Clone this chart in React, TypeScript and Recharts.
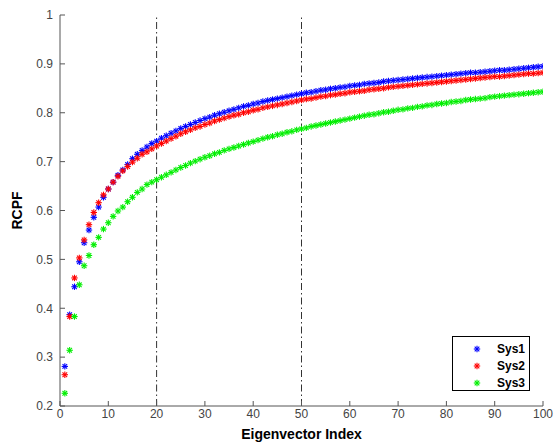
import { ScatterChart, Scatter, XAxis, YAxis, ReferenceLine, Legend, Label } from "recharts"

const sys1 = [
    0.281, 0.387, 0.444, 0.495, 0.534, 0.560, 0.586, 0.607, 0.627, 0.644,
    0.658, 0.672, 0.683, 0.694, 0.706, 0.715, 0.723, 0.730, 0.737, 0.742,
    0.748, 0.753, 0.758, 0.763, 0.768, 0.772, 0.776, 0.780, 0.784, 0.788,
    0.791, 0.795, 0.798, 0.801, 0.804, 0.807, 0.810, 0.813, 0.815, 0.818,
    0.820, 0.823, 0.825, 0.827, 0.829, 0.831, 0.833, 0.835, 0.837, 0.839,
    0.841, 0.842, 0.844, 0.846, 0.847, 0.849, 0.850, 0.852, 0.853, 0.855,
    0.856, 0.857, 0.859, 0.860, 0.861, 0.862, 0.864, 0.865, 0.866, 0.867,
    0.868, 0.869, 0.870, 0.871, 0.872, 0.873, 0.874, 0.875, 0.876, 0.877,
    0.878, 0.879, 0.880, 0.881, 0.882, 0.882, 0.883, 0.884, 0.885, 0.886,
    0.887, 0.887, 0.888, 0.889, 0.890, 0.891, 0.892, 0.893, 0.894, 0.895,
]

const sys2 = [
    0.264, 0.383, 0.462, 0.503, 0.540, 0.571, 0.596, 0.616, 0.632, 0.644,
    0.658, 0.670, 0.681, 0.690, 0.699, 0.707, 0.715, 0.720, 0.726, 0.732,
    0.737, 0.742, 0.747, 0.752, 0.757, 0.761, 0.765, 0.769, 0.772, 0.776,
    0.779, 0.783, 0.786, 0.789, 0.792, 0.795, 0.797, 0.800, 0.802, 0.805,
    0.807, 0.810, 0.812, 0.814, 0.816, 0.818, 0.820, 0.822, 0.824, 0.826,
    0.828, 0.829, 0.831, 0.833, 0.834, 0.836, 0.837, 0.839, 0.840, 0.842,
    0.843, 0.844, 0.845, 0.847, 0.848, 0.849, 0.850, 0.852, 0.853, 0.854,
    0.855, 0.856, 0.857, 0.858, 0.859, 0.860, 0.861, 0.862, 0.863, 0.864,
    0.865, 0.866, 0.867, 0.868, 0.869, 0.870, 0.871, 0.872, 0.873, 0.874,
    0.874, 0.875, 0.876, 0.877, 0.878, 0.879, 0.880, 0.880, 0.881, 0.882,
]

const sys3 = [
    0.226, 0.314, 0.383, 0.448, 0.487, 0.508, 0.530, 0.545, 0.562, 0.575,
    0.588, 0.599, 0.607, 0.618, 0.627, 0.637, 0.644, 0.653, 0.658, 0.663,
    0.668, 0.673, 0.678, 0.683, 0.688, 0.692, 0.697, 0.701, 0.705, 0.709,
    0.712, 0.716, 0.719, 0.723, 0.726, 0.729, 0.732, 0.735, 0.738, 0.741,
    0.744, 0.747, 0.750, 0.752, 0.755, 0.757, 0.760, 0.762, 0.765, 0.767,
    0.769, 0.772, 0.774, 0.776, 0.778, 0.780, 0.782, 0.784, 0.786, 0.788,
    0.790, 0.792, 0.794, 0.796, 0.797, 0.799, 0.801, 0.802, 0.804, 0.806,
    0.807, 0.809, 0.810, 0.812, 0.813, 0.815, 0.816, 0.818, 0.819, 0.820,
    0.822, 0.823, 0.824, 0.826, 0.827, 0.828, 0.829, 0.830, 0.832, 0.833,
    0.834, 0.835, 0.836, 0.837, 0.838, 0.839, 0.840, 0.841, 0.842, 0.843,
]

const xTicks = [0, 10, 20, 30, 40, 50, 60, 70, 80, 90, 100]
const yTicks = [0.2, 0.3, 0.4, 0.5, 0.6, 0.7, 0.8, 0.9, 1]
const markers = [20, 50]

const series = [
    { name: "Sys1", values: sys1, color: "#0000ff" },
    { name: "Sys2", values: sys2, color: "#ff0000" },
    { name: "Sys3", values: sys3, color: "#00ee00" },
]

const font = "'Liberation Sans', Arial, sans-serif"
const axisColor = "#555"

function Asterisk(props: any) {
    const { cx, cy, fill } = props
    if (cx == null || cy == null) return null
    const r = 3.2
    const d = 2.3
    return (
        <g stroke={fill} strokeWidth={1.1}>
            <line x1={cx - r} y1={cy} x2={cx + r} y2={cy} />
            <line x1={cx} y1={cy - r} x2={cx} y2={cy + r} />
            <line x1={cx - d} y1={cy - d} x2={cx + d} y2={cy + d} />
            <line x1={cx - d} y1={cy + d} x2={cx + d} y2={cy - d} />
        </g>
    )
}

function LegendBox() {
    return (
        <div style={{ width: 78, height: 55, border: "1px solid #000", background: "#fff", fontFamily: font, fontWeight: "bold", fontSize: 12, boxSizing: "border-box", paddingTop: 3 }}>
            {series.map((s) => (
                <div key={s.name} style={{ display: "flex", alignItems: "center", height: 17 }}>
                    <svg width={44} height={12}>
                        <Asterisk cx={24} cy={6} fill={s.color} />
                    </svg>
                    <span>{s.name}</span>
                </div>
            ))}
        </div>
    )
}

const fmt = (v: number) => (v === 1 ? "1" : v.toFixed(1))

export default function App() {
    return (
        <div style={{ position: "absolute", left: 0, top: 0, background: "#fff" }}>
            <ScatterChart width={558} height={444} margin={{ top: 15, right: 15, left: 0, bottom: 0 }}>
                <XAxis
                    type="number"
                    dataKey="x"
                    domain={[0, 100]}
                    ticks={xTicks}
                    height={38}
                    tickSize={-5}
                    tickMargin={8}
                    stroke={axisColor}
                    tick={{ fill: "#444", fontSize: 12, fontFamily: font }}
                    allowDataOverflow
                >
                    <Label value="Eigenvector Index" position="insideBottom" offset={5} style={{ fontFamily: font, fontWeight: "bold", fontSize: 14, fill: "#000" }} />
                </XAxis>
                <XAxis xAxisId="top" orientation="top" type="number" domain={[0, 100]} ticks={xTicks} height={0} tickSize={-5} tick={false} stroke={axisColor} />
                <YAxis
                    type="number"
                    dataKey="y"
                    domain={[0.2, 1]}
                    ticks={yTicks}
                    width={60}
                    tickSize={-5}
                    tickMargin={12}
                    tickFormatter={fmt}
                    stroke={axisColor}
                    tick={{ fill: "#444", fontSize: 12, fontFamily: font }}
                    allowDataOverflow
                >
                    <Label value="RCPF" angle={-90} position="insideLeft" offset={17} style={{ fontFamily: font, fontWeight: "bold", fontSize: 14, fill: "#000", textAnchor: "middle" }} />
                </YAxis>
                <YAxis yAxisId="right" orientation="right" type="number" domain={[0.2, 1]} ticks={yTicks} width={0} tickSize={-5} tick={false} stroke={axisColor} />
                {markers.map((m) => (
                    <ReferenceLine key={m} x={m} stroke="#333" strokeDasharray="7 3 1.5 3" strokeWidth={1} />
                ))}
                {series.map((s) => (
                    <Scatter
                        key={s.name}
                        name={s.name}
                        data={s.values.map((v, i) => ({ x: i + 1, y: v }))}
                        fill={s.color}
                        shape={<Asterisk />}
                        isAnimationActive={false}
                    />
                ))}
                <Legend
                    layout="vertical"
                    align="center"
                    verticalAlign="middle"
                    content={() => <LegendBox />}
                    wrapperStyle={{ left: 452, top: 336, width: 80, height: 57 }}
                />
            </ScatterChart>
        </div>
    )
}
